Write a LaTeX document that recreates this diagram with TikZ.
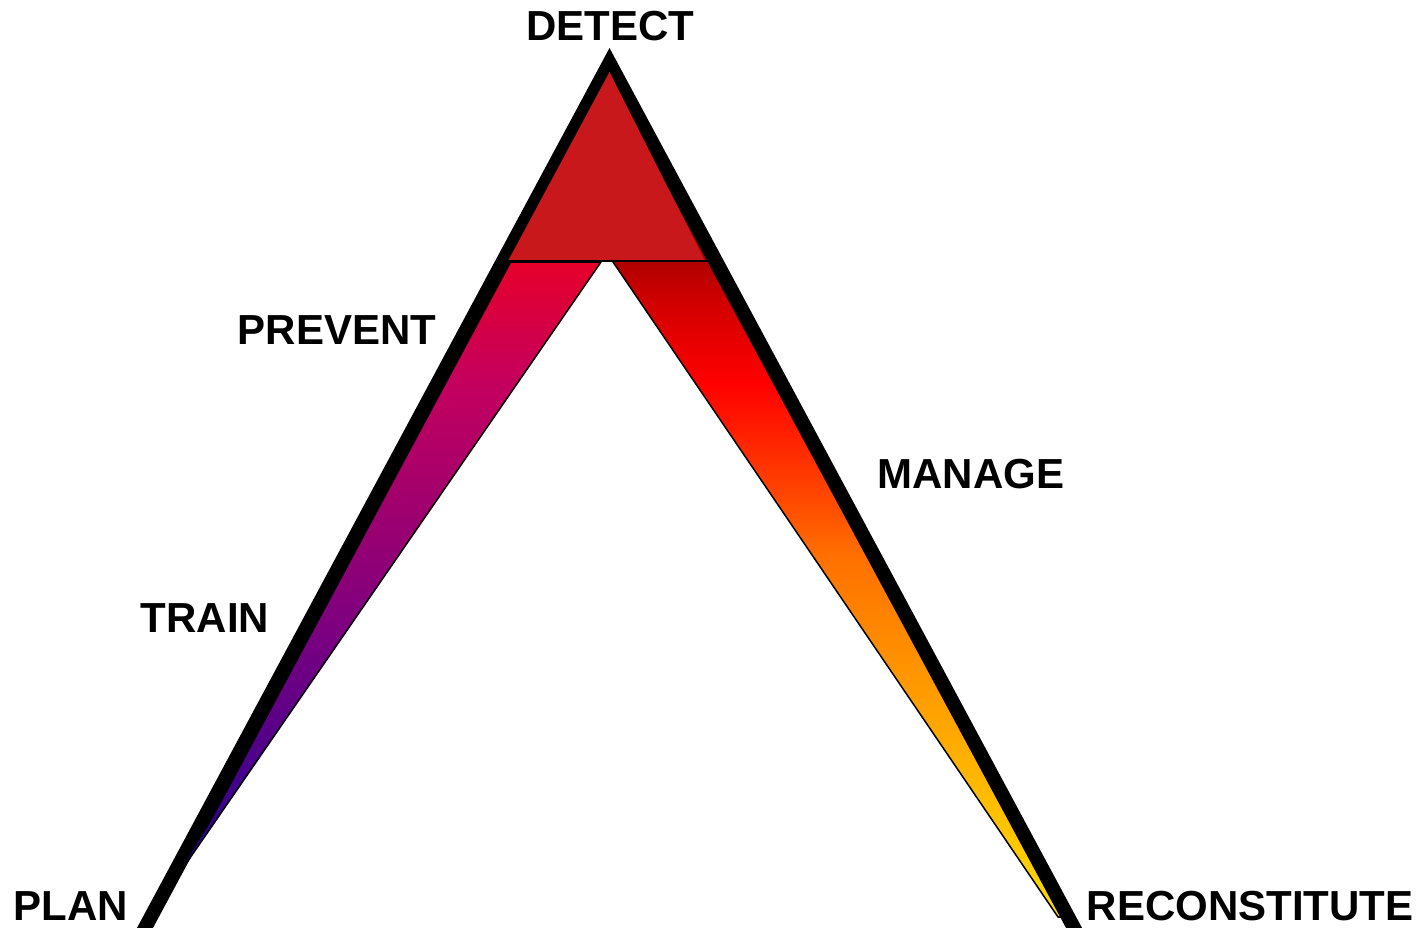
\documentclass[tikz,border=0pt]{standalone}
\usepackage{fontspec}
\setmainfont{Liberation Sans}
\usepackage{tikz}

% ramp colours
\definecolor{apexred}{HTML}{C8181C}
\definecolor{lrA}{HTML}{E6002A}
\definecolor{lrB}{HTML}{C4005E}
\definecolor{lrC}{HTML}{A0006E}
\definecolor{lrD}{HTML}{7C0080}
\definecolor{lrE}{HTML}{50008A}
\definecolor{lrF}{HTML}{300090}
\definecolor{lrG}{HTML}{280095}
\definecolor{rrA}{HTML}{B00000}
\definecolor{rrB}{HTML}{D00000}
\definecolor{rrC}{HTML}{FF0000}
\definecolor{rrD}{HTML}{FF4C00}
\definecolor{rrE}{HTML}{FF7000}
\definecolor{rrF}{HTML}{FF9800}
\definecolor{rrG}{HTML}{FFB400}
\definecolor{rrH}{HTML}{FFD200}
\definecolor{rrI}{HTML}{FFD800}

\pgfdeclareverticalshading{leftramp}{100bp}{color(0bp)=(lrG); color(25bp)=(lrG);
  color(30.2bp)=(lrF); color(36.6bp)=(lrE); color(46.2bp)=(lrD); color(55.9bp)=(lrC);
  color(65.5bp)=(lrB); color(75bp)=(lrA); color(100bp)=(lrA)}
\pgfdeclareverticalshading{rightramp}{100bp}{color(0bp)=(rrI); color(25bp)=(rrI);
  color(27.4bp)=(rrH); color(34.7bp)=(rrG); color(40.3bp)=(rrF); color(48.5bp)=(rrE);
  color(51.9bp)=(rrD); color(59.8bp)=(rrC); color(65.2bp)=(rrB); color(67.7bp)=(rrA);
  color(100bp)=(rrA)}

\begin{document}
\begin{tikzpicture}[x=1pt, y=-1pt,
    phase/.style={font=\fontsize{42}{50}\selectfont\bfseries, inner sep=0pt},
    ramp/.style={draw=black, line width=1.5pt, line join=round}
  ]
    \useasboundingbox (0,0) rectangle (1426,928);

    % black frame
    \fill[black] (609.5,48) -- (1088.5,940) -- (1072.5,940) -- (609.5,77.8)
      -- (146.5,940) -- (130.5,940) -- cycle;

    % ribbons
    \shadedraw[shading=leftramp, ramp] (510.6,262) -- (601,262) -- (161,900) -- (211,820) -- cycle;
    \shadedraw[shading=rightramp, ramp] (648.3,150) -- (1061,917) -- (1058,917) -- (613,262) -- cycle;

    % apex
    \fill[apexred] (609.5,72) -- (508,261) -- (705,261) -- cycle;
    \draw[line width=2pt] (508,261) -- (712,261);

    \node[phase] (detect) at (610,26) {DETECT};
    \node[phase] (prevent) at (337,330) {PREVENT};
    \node[phase] (manage) at (971,474) {MANAGE};
    \node[phase] (train) at (205,618) {TRAIN};
    \node[phase] (plan) at (71,906) {PLAN};
    \node[phase] (recon) at (1250,906) {RECONSTITUTE};
  \end{tikzpicture}
\end{document}
